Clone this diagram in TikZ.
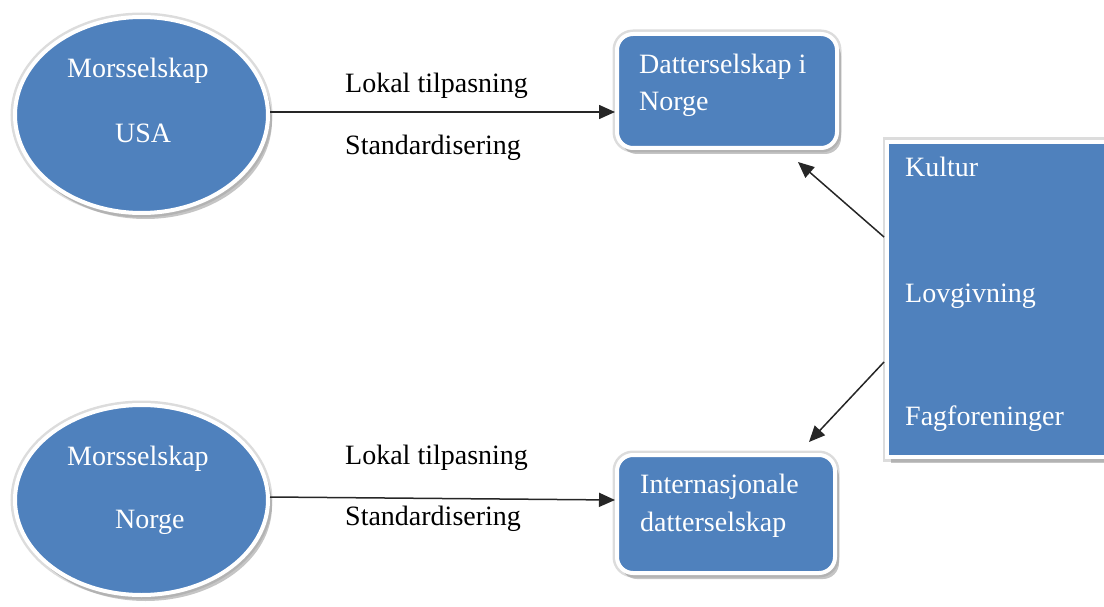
\documentclass[tikz,border=0pt]{standalone}
\usepackage{fontspec}
\setmainfont{Liberation Serif}
\usetikzlibrary{shapes.geometric,arrows.meta,shadows}
\definecolor{ofblue}{HTML}{4F81BD}
\definecolor{rimgray}{HTML}{DCDCDC}
\tikzset{
  bluefill/.style={fill=ofblue, draw=white, line width=4pt,
    preaction={draw=rimgray, line width=9pt},
    drop shadow={shadow xshift=4pt, shadow yshift=-6pt, fill=black!45, opacity=0.5}},
  oval/.style={bluefill, ellipse, inner sep=0pt},
  roundbox/.style={bluefill, rectangle, rounded corners=16pt, inner sep=0pt},
  whitetxt/.style={text=white, font=\fontsize{28}{30}\selectfont, inner sep=0pt, anchor=base west},
  blacktxt/.style={text=black, font=\fontsize{28}{30}\selectfont, inner sep=0pt, anchor=base west},
  conn/.style={draw=black!85, line width=1.5pt, -{Triangle[length=16pt,width=14pt]}}
}
\begin{document}
\begin{tikzpicture}[x=1pt,y=-1pt]
\useasboundingbox (0,0) rectangle (1104,607);
\clip (0,0) rectangle (1104,607);

% shapes
\node[oval, minimum width=253pt, minimum height=196pt] (usa) at (141.5,115) {};
\node[oval, minimum width=253pt, minimum height=190pt] (nor) at (141.5,500) {};
\node[roundbox, minimum width=220pt, minimum height=114pt] (dat) at (727,91) {};
\node[roundbox, minimum width=218pt, minimum height=118pt] (int) at (726,514) {};
\node[bluefill, rectangle, minimum width=240pt, minimum height=315pt, inner sep=0pt] (fac) at (1007,299.5) {};

% texts in shapes
\node[whitetxt] (t1) at (67,78) {Morsselskap};
\node[whitetxt] (t2) at (115,143) {USA};
\node[whitetxt] (t3) at (67,465) {Morsselskap};
\node[whitetxt] (t4) at (115,528) {Norge};
\node[whitetxt] (t5) at (639,74) {Datterselskap i};
\node[whitetxt] (t6) at (639,111) {Norge};
\node[whitetxt] (t7) at (640,493) {Internasjonale};
\node[whitetxt] (t8) at (640,531) {datterselskap};
\node[whitetxt] (t9) at (905,177) {Kultur};
\node[whitetxt] (t10) at (905,302) {Lovgivning};
\node[whitetxt] (t11) at (905,425) {Fagforeninger};

% labels
\node[blacktxt] (l1) at (345,93) {Lokal tilpasning};
\node[blacktxt] (l2) at (345,155) {Standardisering};
\node[blacktxt] (l3) at (345,464) {Lokal tilpasning};
\node[blacktxt] (l4) at (345,525) {Standardisering};

% connectors
\coordinate (fa) at (884,237);
\coordinate (fb) at (884,362);
\draw[conn] (usa.east |- 0,112) -- (dat.west |- 0,112);
\draw[conn] (nor.east |- 0,497) -- (int.west |- 0,500);
\draw[conn] (fa) -- (798,162);
\draw[conn] (fb) -- (809,442);
\end{tikzpicture}
\end{document}
